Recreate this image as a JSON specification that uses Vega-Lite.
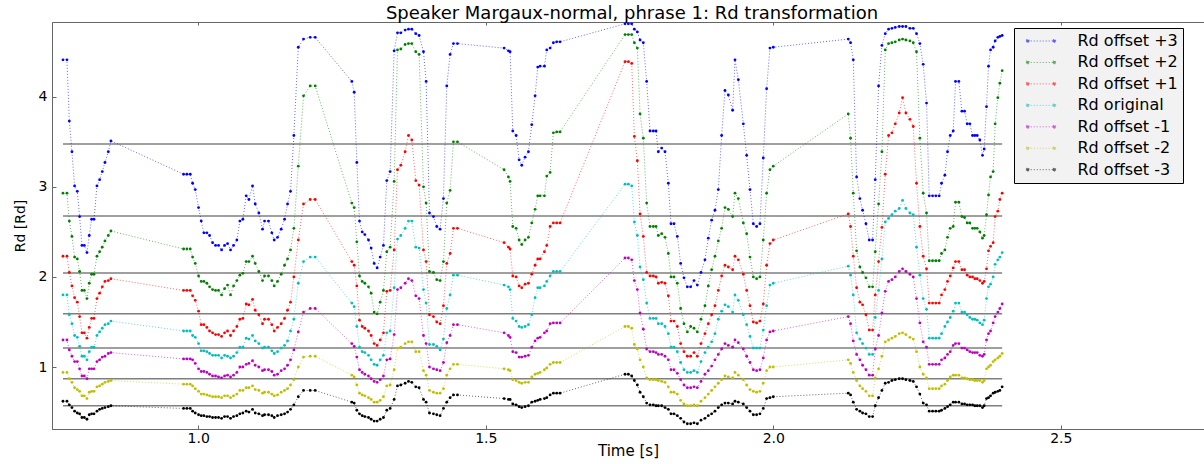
{
"$schema": "https://vega.github.io/schema/vega-lite/v6.json",
"autosize": {"type": "none"},
"padding": {"left": 52, "top": 22, "right": 0, "bottom": 35},
"width": 1152,
"height": 407,
"background": "white",
"title": {"text": "Speaker Margaux-normal, phrase 1: Rd transformation", "font": "DejaVu Sans", "fontSize": 18, "fontWeight": "normal", "color": "#000", "offset": -1, "anchor": "middle", "dx": 4},
"datasets": {
"means": [
{"s": "p3", "y": 3.475, "x0": 0.7648, "x1": 2.398},
{"s": "p2", "y": 2.676, "x0": 0.7648, "x1": 2.398},
{"s": "p1", "y": 2.044, "x0": 0.7648, "x1": 2.398},
{"s": "o", "y": 1.59, "x0": 0.7648, "x1": 2.398},
{"s": "m1", "y": 1.21, "x0": 0.7648, "x1": 2.398},
{"s": "m2", "y": 0.87, "x0": 0.7648, "x1": 2.398},
{"s": "m3", "y": 0.57, "x0": 0.7648, "x1": 2.398}
],
"rd": [
{"t":0.7648,"p3":4.41,"p2":2.93,"p1":2.23,"o":1.80,"m1":1.30,"m2":0.94,"m3":0.62},
{"t":0.7717,"p3":4.41,"p2":2.93,"p1":2.23,"o":1.80,"m1":1.30,"m2":0.94,"m3":0.62},
{"t":0.7758,"p3":3.73,"p2":2.62,"p1":2.05,"o":1.58,"m1":1.19,"m2":0.87,"m3":0.58},
{"t":0.7804,"p3":3.39,"p2":2.45,"p1":1.90,"o":1.48,"m1":1.12,"m2":0.83,"m3":0.55},
{"t":0.7850,"p3":3.01,"p2":2.22,"p1":1.77,"o":1.35,"m1":1.06,"m2":0.77,"m3":0.51},
{"t":0.7897,"p3":2.95,"p2":2.20,"p1":1.72,"o":1.33,"m1":1.06,"m2":0.75,"m3":0.49},
{"t":0.7937,"p3":2.67,"p2":2.06,"p1":1.56,"o":1.23,"m1":0.98,"m2":0.73,"m3":0.48},
{"t":0.7978,"p3":2.35,"p2":1.85,"p1":1.38,"o":1.12,"m1":0.90,"m2":0.68,"m3":0.44},
{"t":0.8019,"p3":2.35,"p2":1.85,"p1":1.38,"o":1.12,"m1":0.90,"m2":0.68,"m3":0.44},
{"t":0.8065,"p3":2.27,"p2":1.76,"p1":1.32,"o":1.08,"m1":0.87,"m2":0.65,"m3":0.42},
{"t":0.8105,"p3":2.46,"p2":1.93,"p1":1.44,"o":1.17,"m1":0.98,"m2":0.72,"m3":0.47},
{"t":0.8146,"p3":2.64,"p2":2.03,"p1":1.54,"o":1.22,"m1":0.98,"m2":0.73,"m3":0.48},
{"t":0.8187,"p3":2.64,"p2":2.03,"p1":1.54,"o":1.22,"m1":0.98,"m2":0.73,"m3":0.48},
{"t":0.8239,"p3":3.01,"p2":2.23,"p1":1.76,"o":1.35,"m1":1.06,"m2":0.78,"m3":0.51},
{"t":0.8285,"p3":3.08,"p2":2.28,"p1":1.82,"o":1.39,"m1":1.08,"m2":0.79,"m3":0.53},
{"t":0.8331,"p3":3.17,"p2":2.33,"p1":1.89,"o":1.43,"m1":1.11,"m2":0.81,"m3":0.54},
{"t":0.8378,"p3":3.27,"p2":2.40,"p1":1.95,"o":1.47,"m1":1.12,"m2":0.83,"m3":0.55},
{"t":0.8436,"p3":3.39,"p2":2.46,"p1":1.96,"o":1.48,"m1":1.15,"m2":0.84,"m3":0.56},
{"t":0.8482,"p3":3.51,"p2":2.51,"p1":1.98,"o":1.51,"m1":1.16,"m2":0.85,"m3":0.57},
{"t":0.9745,"p3":3.14,"p2":2.31,"p1":1.85,"o":1.40,"m1":1.09,"m2":0.81,"m3":0.54},
{"t":0.9803,"p3":3.14,"p2":2.31,"p1":1.85,"o":1.40,"m1":1.09,"m2":0.81,"m3":0.54},
{"t":0.9861,"p3":3.14,"p2":2.31,"p1":1.85,"o":1.40,"m1":1.09,"m2":0.81,"m3":0.54},
{"t":0.9902,"p3":3.04,"p2":2.22,"p1":1.79,"o":1.35,"m1":1.08,"m2":0.79,"m3":0.51},
{"t":0.9948,"p3":2.97,"p2":2.15,"p1":1.74,"o":1.33,"m1":1.04,"m2":0.76,"m3":0.49},
{"t":1.0006,"p3":2.77,"p2":2.01,"p1":1.62,"o":1.26,"m1":0.98,"m2":0.73,"m3":0.47},
{"t":1.0052,"p3":2.62,"p2":1.95,"p1":1.47,"o":1.18,"m1":0.95,"m2":0.70,"m3":0.46},
{"t":1.0098,"p3":2.49,"p2":1.95,"p1":1.47,"o":1.18,"m1":0.95,"m2":0.70,"m3":0.46},
{"t":1.0150,"p3":2.49,"p2":1.93,"p1":1.44,"o":1.17,"m1":0.94,"m2":0.69,"m3":0.45},
{"t":1.0197,"p3":2.46,"p2":1.89,"p1":1.40,"o":1.15,"m1":0.92,"m2":0.68,"m3":0.45},
{"t":1.0249,"p3":2.38,"p2":1.86,"p1":1.38,"o":1.13,"m1":0.90,"m2":0.67,"m3":0.44},
{"t":1.0301,"p3":2.35,"p2":1.85,"p1":1.36,"o":1.13,"m1":0.90,"m2":0.67,"m3":0.44},
{"t":1.0353,"p3":2.35,"p2":1.85,"p1":1.36,"o":1.13,"m1":0.89,"m2":0.67,"m3":0.44},
{"t":1.0406,"p3":2.30,"p2":1.80,"p1":1.34,"o":1.10,"m1":0.88,"m2":0.66,"m3":0.43},
{"t":1.0458,"p3":2.35,"p2":1.87,"p1":1.38,"o":1.13,"m1":0.90,"m2":0.68,"m3":0.45},
{"t":1.0510,"p3":2.37,"p2":1.91,"p1":1.40,"o":1.12,"m1":0.91,"m2":0.68,"m3":0.45},
{"t":1.0562,"p3":2.30,"p2":1.80,"p1":1.35,"o":1.10,"m1":0.89,"m2":0.66,"m3":0.43},
{"t":1.0614,"p3":2.35,"p2":1.90,"p1":1.40,"o":1.12,"m1":0.91,"m2":0.68,"m3":0.45},
{"t":1.0672,"p3":2.41,"p2":1.96,"p1":1.45,"o":1.16,"m1":0.94,"m2":0.70,"m3":0.46},
{"t":1.0724,"p3":2.62,"p2":2.02,"p1":1.53,"o":1.22,"m1":1.00,"m2":0.74,"m3":0.48},
{"t":1.0776,"p3":2.64,"p2":2.04,"p1":1.54,"o":1.22,"m1":1.00,"m2":0.74,"m3":0.49},
{"t":1.0834,"p3":2.90,"p2":2.17,"p1":1.70,"o":1.32,"m1":1.03,"m2":0.77,"m3":0.51},
{"t":1.0881,"p3":2.86,"p2":2.17,"p1":1.69,"o":1.31,"m1":1.04,"m2":0.77,"m3":0.50},
{"t":1.0944,"p3":3.01,"p2":2.23,"p1":1.75,"o":1.35,"m1":1.07,"m2":0.79,"m3":0.53},
{"t":1.0991,"p3":2.81,"p2":2.15,"p1":1.63,"o":1.29,"m1":1.02,"m2":0.75,"m3":0.49},
{"t":1.1054,"p3":2.71,"p2":2.06,"p1":1.58,"o":1.26,"m1":1.00,"m2":0.74,"m3":0.48},
{"t":1.1118,"p3":2.53,"p2":1.96,"p1":1.48,"o":1.21,"m1":0.96,"m2":0.71,"m3":0.46},
{"t":1.1153,"p3":2.62,"p2":2.01,"p1":1.53,"o":1.22,"m1":0.97,"m2":0.72,"m3":0.47},
{"t":1.1222,"p3":2.62,"p2":2.01,"p1":1.53,"o":1.22,"m1":0.97,"m2":0.72,"m3":0.47},
{"t":1.1280,"p3":2.49,"p2":1.96,"p1":1.47,"o":1.18,"m1":0.95,"m2":0.70,"m3":0.46},
{"t":1.1321,"p3":2.41,"p2":1.90,"p1":1.40,"o":1.15,"m1":0.91,"m2":0.68,"m3":0.44},
{"t":1.1379,"p3":2.44,"p2":1.95,"p1":1.44,"o":1.17,"m1":0.92,"m2":0.69,"m3":0.46},
{"t":1.1443,"p3":2.53,"p2":2.03,"p1":1.48,"o":1.21,"m1":0.96,"m2":0.72,"m3":0.47},
{"t":1.1501,"p3":2.64,"p2":2.13,"p1":1.54,"o":1.24,"m1":0.98,"m2":0.74,"m3":0.48},
{"t":1.1553,"p3":2.81,"p2":2.20,"p1":1.63,"o":1.29,"m1":1.02,"m2":0.76,"m3":0.50},
{"t":1.1605,"p3":2.95,"p2":2.30,"p1":1.72,"o":1.40,"m1":1.08,"m2":0.80,"m3":0.53},
{"t":1.1663,"p3":3.57,"p2":2.54,"p1":2.00,"o":1.53,"m1":1.19,"m2":0.86,"m3":0.58},
{"t":1.1740,"p3":4.55,"p2":3.23,"p1":2.41,"o":1.93,"m1":1.39,"m2":1.00,"m3":0.67},
{"t":1.1831,"p3":4.64,"p2":4.01,"p1":2.81,"o":2.17,"m1":1.61,"m2":1.11,"m3":0.74},
{"t":1.1947,"p3":4.66,"p2":4.12,"p1":2.86,"o":2.22,"m1":1.65,"m2":1.12,"m3":0.74},
{"t":1.2034,"p3":4.66,"p2":4.12,"p1":2.86,"o":2.22,"m1":1.65,"m2":1.12,"m3":0.74},
{"t":1.2671,"p3":4.17,"p2":2.82,"p1":2.17,"o":1.71,"m1":1.26,"m2":0.91,"m3":0.61},
{"t":1.2712,"p3":4.05,"p2":2.77,"p1":2.13,"o":1.67,"m1":1.23,"m2":0.89,"m3":0.60},
{"t":1.2758,"p3":3.27,"p2":2.39,"p1":1.90,"o":1.45,"m1":1.11,"m2":0.80,"m3":0.52},
{"t":1.2804,"p3":2.62,"p2":2.01,"p1":1.52,"o":1.22,"m1":0.97,"m2":0.71,"m3":0.48},
{"t":1.2851,"p3":2.50,"p2":1.95,"p1":1.45,"o":1.17,"m1":0.94,"m2":0.69,"m3":0.46},
{"t":1.2897,"p3":2.47,"p2":1.93,"p1":1.43,"o":1.16,"m1":0.92,"m2":0.68,"m3":0.45},
{"t":1.2961,"p3":2.41,"p2":1.89,"p1":1.40,"o":1.13,"m1":0.90,"m2":0.66,"m3":0.44},
{"t":1.3007,"p3":2.32,"p2":1.82,"p1":1.35,"o":1.08,"m1":0.87,"m2":0.64,"m3":0.42},
{"t":1.3059,"p3":2.15,"p2":1.61,"p1":1.26,"o":1.03,"m1":0.84,"m2":0.61,"m3":0.40},
{"t":1.3111,"p3":2.10,"p2":1.59,"p1":1.24,"o":1.02,"m1":0.83,"m2":0.61,"m3":0.40},
{"t":1.3164,"p3":2.22,"p2":1.72,"p1":1.30,"o":1.08,"m1":0.86,"m2":0.63,"m3":0.42},
{"t":1.3221,"p3":2.35,"p2":1.85,"p1":1.38,"o":1.13,"m1":0.90,"m2":0.67,"m3":0.44},
{"t":1.3279,"p3":3.07,"p2":2.28,"p1":1.84,"o":1.38,"m1":1.08,"m2":0.79,"m3":0.52},
{"t":1.3337,"p3":3.17,"p2":2.33,"p1":1.85,"o":1.40,"m1":1.09,"m2":0.80,"m3":0.54},
{"t":1.3407,"p3":4.51,"p2":3.06,"p1":2.30,"o":1.88,"m1":1.36,"m2":0.97,"m3":0.64},
{"t":1.3465,"p3":4.71,"p2":4.52,"p1":3.19,"o":2.42,"m1":1.86,"m2":1.21,"m3":0.79},
{"t":1.3523,"p3":4.71,"p2":4.53,"p1":3.24,"o":2.46,"m1":1.88,"m2":1.22,"m3":0.80},
{"t":1.3598,"p3":4.74,"p2":4.58,"p1":3.39,"o":2.54,"m1":1.93,"m2":1.26,"m3":0.82},
{"t":1.3656,"p3":4.75,"p2":4.59,"p1":3.57,"o":2.62,"m1":1.98,"m2":1.28,"m3":0.84},
{"t":1.3714,"p3":4.75,"p2":4.59,"p1":3.52,"o":2.62,"m1":1.96,"m2":1.28,"m3":0.83},
{"t":1.3783,"p3":4.70,"p2":4.50,"p1":3.07,"o":2.33,"m1":1.79,"m2":1.17,"m3":0.78},
{"t":1.3841,"p3":4.68,"p2":4.47,"p1":3.02,"o":2.32,"m1":1.76,"m2":1.17,"m3":0.77},
{"t":1.3917,"p3":4.50,"p2":3.00,"p1":2.30,"o":1.86,"m1":1.35,"m2":0.96,"m3":0.64},
{"t":1.3963,"p3":4.17,"p2":2.82,"p1":2.17,"o":1.71,"m1":1.26,"m2":0.91,"m3":0.61},
{"t":1.4021,"p3":2.71,"p2":2.06,"p1":1.58,"o":1.25,"m1":1.00,"m2":0.74,"m3":0.49},
{"t":1.4090,"p3":2.67,"p2":2.05,"p1":1.56,"o":1.25,"m1":0.98,"m2":0.72,"m3":0.48},
{"t":1.4148,"p3":2.56,"p2":1.97,"p1":1.50,"o":1.23,"m1":0.97,"m2":0.71,"m3":0.47},
{"t":1.4206,"p3":2.53,"p2":1.96,"p1":1.48,"o":1.19,"m1":0.96,"m2":0.71,"m3":0.46},
{"t":1.4264,"p3":2.87,"p2":2.17,"p1":1.68,"o":1.31,"m1":1.05,"m2":0.76,"m3":0.54},
{"t":1.4322,"p3":4.12,"p2":2.82,"p1":2.15,"o":1.65,"m1":1.27,"m2":0.91,"m3":0.61},
{"t":1.4380,"p3":4.47,"p2":2.96,"p1":2.26,"o":1.80,"m1":1.35,"m2":0.98,"m3":0.66},
{"t":1.4438,"p3":4.59,"p2":3.50,"p1":2.54,"o":2.02,"m1":1.47,"m2":1.03,"m3":0.69},
{"t":1.4508,"p3":4.59,"p2":3.50,"p1":2.54,"o":2.02,"m1":1.47,"m2":1.03,"m3":0.69},
{"t":1.5319,"p3":4.54,"p2":3.19,"p1":2.38,"o":1.91,"m1":1.38,"m2":0.98,"m3":0.65},
{"t":1.5394,"p3":4.51,"p2":3.11,"p1":2.33,"o":1.89,"m1":1.35,"m2":0.97,"m3":0.64},
{"t":1.5423,"p3":4.50,"p2":3.06,"p1":2.31,"o":1.86,"m1":1.33,"m2":0.96,"m3":0.64},
{"t":1.5470,"p3":3.62,"p2":2.56,"p1":2.01,"o":1.54,"m1":1.17,"m2":0.86,"m3":0.59},
{"t":1.5528,"p3":3.57,"p2":2.54,"p1":2.00,"o":1.51,"m1":1.16,"m2":0.85,"m3":0.58},
{"t":1.5580,"p3":3.30,"p2":2.41,"p1":1.90,"o":1.45,"m1":1.11,"m2":0.83,"m3":0.56},
{"t":1.5626,"p3":3.24,"p2":2.36,"p1":1.88,"o":1.44,"m1":1.11,"m2":0.82,"m3":0.55},
{"t":1.5684,"p3":3.33,"p2":2.41,"p1":1.92,"o":1.45,"m1":1.12,"m2":0.83,"m3":0.56},
{"t":1.5742,"p3":3.39,"p2":2.44,"p1":1.93,"o":1.47,"m1":1.13,"m2":0.83,"m3":0.57},
{"t":1.5800,"p3":3.69,"p2":2.60,"p1":2.03,"o":1.58,"m1":1.22,"m2":0.89,"m3":0.61},
{"t":1.5858,"p3":4.01,"p2":2.75,"p1":2.13,"o":1.77,"m1":1.29,"m2":0.92,"m3":0.62},
{"t":1.5904,"p3":4.33,"p2":2.90,"p1":2.20,"o":1.88,"m1":1.32,"m2":0.93,"m3":0.63},
{"t":1.5945,"p3":4.34,"p2":2.90,"p1":2.20,"o":1.88,"m1":1.33,"m2":0.94,"m3":0.64},
{"t":1.6020,"p3":4.34,"p2":2.90,"p1":2.28,"o":1.90,"m1":1.38,"m2":0.97,"m3":0.65},
{"t":1.6061,"p3":4.52,"p2":3.12,"p1":2.35,"o":1.95,"m1":1.40,"m2":0.99,"m3":0.66},
{"t":1.6119,"p3":4.54,"p2":3.16,"p1":2.56,"o":2.01,"m1":1.48,"m2":1.03,"m3":0.69},
{"t":1.6176,"p3":4.60,"p2":3.60,"p1":2.60,"o":2.06,"m1":1.49,"m2":1.05,"m3":0.71},
{"t":1.6234,"p3":4.61,"p2":3.61,"p1":2.60,"o":2.06,"m1":1.49,"m2":1.05,"m3":0.71},
{"t":1.6292,"p3":4.61,"p2":3.61,"p1":2.60,"o":2.06,"m1":1.49,"m2":1.05,"m3":0.71},
{"t":1.7422,"p3":4.81,"p2":4.69,"p1":4.39,"o":3.03,"m1":2.21,"m2":1.45,"m3":0.92},
{"t":1.7480,"p3":4.81,"p2":4.69,"p1":4.39,"o":3.03,"m1":2.21,"m2":1.45,"m3":0.92},
{"t":1.7538,"p3":4.81,"p2":4.69,"p1":4.37,"o":3.01,"m1":2.19,"m2":1.43,"m3":0.90},
{"t":1.7584,"p3":4.75,"p2":4.60,"p1":3.56,"o":2.61,"m1":1.96,"m2":1.25,"m3":0.85},
{"t":1.7636,"p3":4.72,"p2":4.54,"p1":3.29,"o":2.46,"m1":1.86,"m2":1.20,"m3":0.80},
{"t":1.7683,"p3":4.63,"p2":3.81,"p1":2.70,"o":2.11,"m1":1.60,"m2":1.08,"m3":0.72},
{"t":1.7740,"p3":4.60,"p2":3.54,"p1":2.45,"o":1.97,"m1":1.42,"m2":1.00,"m3":0.67},
{"t":1.7798,"p3":4.17,"p2":2.82,"p1":2.05,"o":1.71,"m1":1.20,"m2":0.88,"m3":0.60},
{"t":1.7856,"p3":3.62,"p2":2.56,"p1":2.01,"o":1.54,"m1":1.17,"m2":0.86,"m3":0.58},
{"t":1.7914,"p3":3.62,"p2":2.56,"p1":2.01,"o":1.54,"m1":1.17,"m2":0.86,"m3":0.58},
{"t":1.7961,"p3":3.62,"p2":2.56,"p1":2.00,"o":1.54,"m1":1.16,"m2":0.86,"m3":0.57},
{"t":1.8001,"p3":3.39,"p2":2.46,"p1":1.93,"o":1.48,"m1":1.14,"m2":0.85,"m3":0.57},
{"t":1.8059,"p3":3.43,"p2":2.48,"p1":1.94,"o":1.48,"m1":1.14,"m2":0.84,"m3":0.57},
{"t":1.8117,"p3":3.39,"p2":2.44,"p1":1.93,"o":1.45,"m1":1.12,"m2":0.83,"m3":0.55},
{"t":1.8175,"p3":3.04,"p2":2.26,"p1":1.79,"o":1.37,"m1":1.08,"m2":0.78,"m3":0.53},
{"t":1.8221,"p3":2.59,"p2":2.00,"p1":1.51,"o":1.22,"m1":0.97,"m2":0.72,"m3":0.48},
{"t":1.8273,"p3":2.59,"p2":2.00,"p1":1.51,"o":1.22,"m1":0.97,"m2":0.72,"m3":0.48},
{"t":1.8331,"p3":2.45,"p2":1.93,"p1":1.45,"o":1.17,"m1":0.93,"m2":0.70,"m3":0.46},
{"t":1.8389,"p3":2.15,"p2":1.65,"p1":1.26,"o":1.05,"m1":0.86,"m2":0.63,"m3":0.43},
{"t":1.8447,"p3":1.99,"p2":1.48,"p1":1.17,"o":0.97,"m1":0.80,"m2":0.59,"m3":0.39},
{"t":1.8505,"p3":1.89,"p2":1.39,"p1":1.12,"o":0.94,"m1":0.77,"m2":0.57,"m3":0.37},
{"t":1.8563,"p3":1.89,"p2":1.45,"p1":1.12,"o":0.94,"m1":0.77,"m2":0.57,"m3":0.37},
{"t":1.8621,"p3":1.96,"p2":1.43,"p1":1.16,"o":0.96,"m1":0.78,"m2":0.58,"m3":0.38},
{"t":1.8679,"p3":1.91,"p2":1.39,"p1":1.12,"o":0.94,"m1":0.77,"m2":0.57,"m3":0.37},
{"t":1.8743,"p3":2.05,"p2":1.53,"p1":1.26,"o":1.06,"m1":0.84,"m2":0.62,"m3":0.41},
{"t":1.8812,"p3":2.19,"p2":1.68,"p1":1.37,"o":1.16,"m1":0.92,"m2":0.66,"m3":0.43},
{"t":1.8870,"p3":2.43,"p2":1.90,"p1":1.48,"o":1.22,"m1":0.96,"m2":0.70,"m3":0.46},
{"t":1.8928,"p3":2.63,"p2":2.08,"p1":1.58,"o":1.28,"m1":1.01,"m2":0.74,"m3":0.48},
{"t":1.8986,"p3":2.74,"p2":2.23,"p1":1.68,"o":1.37,"m1":1.08,"m2":0.78,"m3":0.51},
{"t":1.9044,"p3":2.97,"p2":2.40,"p1":1.85,"o":1.53,"m1":1.14,"m2":0.82,"m3":0.55},
{"t":1.9102,"p3":3.57,"p2":2.54,"p1":2.01,"o":1.62,"m1":1.20,"m2":0.86,"m3":0.58},
{"t":1.9160,"p3":4.07,"p2":2.77,"p1":2.13,"o":1.69,"m1":1.26,"m2":0.90,"m3":0.60},
{"t":1.9218,"p3":4.02,"p2":2.75,"p1":2.11,"o":1.67,"m1":1.24,"m2":0.89,"m3":0.60},
{"t":1.9293,"p3":3.85,"p2":2.67,"p1":2.08,"o":1.61,"m1":1.22,"m2":0.88,"m3":0.59},
{"t":1.9334,"p3":4.41,"p2":2.93,"p1":2.23,"o":1.80,"m1":1.30,"m2":0.94,"m3":0.62},
{"t":1.9392,"p3":4.19,"p2":2.87,"p1":2.19,"o":1.74,"m1":1.27,"m2":0.91,"m3":0.61},
{"t":1.9479,"p3":3.70,"p2":2.60,"p1":2.03,"o":1.58,"m1":1.20,"m2":0.86,"m3":0.59},
{"t":1.9537,"p3":3.35,"p2":2.48,"p1":1.85,"o":1.47,"m1":1.12,"m2":0.80,"m3":0.55},
{"t":1.9595,"p3":2.97,"p2":2.22,"p1":1.68,"o":1.34,"m1":1.05,"m2":0.75,"m3":0.51},
{"t":1.9653,"p3":2.59,"p2":2.00,"p1":1.50,"o":1.21,"m1":0.97,"m2":0.73,"m3":0.47},
{"t":1.9710,"p3":2.56,"p2":1.98,"p1":1.49,"o":1.21,"m1":0.96,"m2":0.72,"m3":0.47},
{"t":1.9768,"p3":2.59,"p2":2.00,"p1":1.51,"o":1.21,"m1":0.97,"m2":0.73,"m3":0.48},
{"t":1.9826,"p3":3.32,"p2":2.41,"p1":1.70,"o":1.41,"m1":1.10,"m2":0.82,"m3":0.54},
{"t":1.9884,"p3":4.09,"p2":2.93,"p1":2.13,"o":1.68,"m1":1.30,"m2":0.96,"m3":0.65},
{"t":1.9942,"p3":4.54,"p2":3.19,"p1":2.37,"o":1.91,"m1":1.39,"m2":1.00,"m3":0.66},
{"t":2.0000,"p3":4.55,"p2":3.23,"p1":2.41,"o":1.93,"m1":1.40,"m2":1.00,"m3":0.67},
{"t":2.1304,"p3":4.64,"p2":3.81,"p1":2.70,"o":2.12,"m1":1.56,"m2":1.08,"m3":0.71},
{"t":2.1344,"p3":4.60,"p2":3.54,"p1":2.56,"o":2.02,"m1":1.48,"m2":1.04,"m3":0.69},
{"t":2.1391,"p3":4.41,"p2":2.93,"p1":2.23,"o":1.80,"m1":1.29,"m2":0.94,"m3":0.61},
{"t":2.1449,"p3":3.11,"p2":2.29,"p1":1.88,"o":1.38,"m1":1.14,"m2":0.85,"m3":0.53},
{"t":2.1506,"p3":2.87,"p2":2.11,"p1":1.72,"o":1.31,"m1":1.08,"m2":0.79,"m3":0.51},
{"t":2.1553,"p3":2.74,"p2":2.05,"p1":1.69,"o":1.26,"m1":1.02,"m2":0.76,"m3":0.49},
{"t":2.1611,"p3":2.59,"p2":1.99,"p1":1.58,"o":1.21,"m1":0.97,"m2":0.73,"m3":0.48},
{"t":2.1669,"p3":2.41,"p2":1.89,"p1":1.41,"o":1.14,"m1":0.91,"m2":0.68,"m3":0.45},
{"t":2.1727,"p3":2.41,"p2":1.89,"p1":1.41,"o":1.14,"m1":0.91,"m2":0.68,"m3":0.45},
{"t":2.1773,"p3":3.08,"p2":2.28,"p1":1.80,"o":1.55,"m1":1.20,"m2":0.88,"m3":0.57},
{"t":2.1831,"p3":4.12,"p2":2.81,"p1":2.17,"o":1.85,"m1":1.35,"m2":0.98,"m3":0.66},
{"t":2.1889,"p3":4.57,"p2":3.39,"p1":2.55,"o":2.20,"m1":1.60,"m2":1.12,"m3":0.74},
{"t":2.1947,"p3":4.70,"p2":4.52,"p1":3.14,"o":2.61,"m1":1.84,"m2":1.28,"m3":0.82},
{"t":2.2005,"p3":4.75,"p2":4.59,"p1":3.57,"o":2.65,"m1":1.95,"m2":1.30,"m3":0.83},
{"t":2.2063,"p3":4.76,"p2":4.60,"p1":3.60,"o":2.69,"m1":1.97,"m2":1.32,"m3":0.85},
{"t":2.2121,"p3":4.77,"p2":4.61,"p1":3.70,"o":2.73,"m1":2.00,"m2":1.34,"m3":0.86},
{"t":2.2190,"p3":4.78,"p2":4.63,"p1":3.82,"o":2.76,"m1":2.06,"m2":1.37,"m3":0.87},
{"t":2.2248,"p3":4.78,"p2":4.64,"p1":3.99,"o":2.85,"m1":2.09,"m2":1.38,"m3":0.87},
{"t":2.2306,"p3":4.78,"p2":4.63,"p1":3.82,"o":2.76,"m1":2.06,"m2":1.36,"m3":0.86},
{"t":2.2376,"p3":4.76,"p2":4.62,"p1":3.75,"o":2.71,"m1":2.03,"m2":1.33,"m3":0.85},
{"t":2.2434,"p3":4.76,"p2":4.60,"p1":3.67,"o":2.69,"m1":2.00,"m2":1.31,"m3":0.84},
{"t":2.2491,"p3":4.70,"p2":4.50,"p1":3.04,"o":2.33,"m1":1.76,"m2":1.17,"m3":0.78},
{"t":2.2549,"p3":4.59,"p2":3.54,"p1":2.56,"o":2.02,"m1":1.49,"m2":1.00,"m3":0.70},
{"t":2.2607,"p3":4.36,"p2":2.93,"p1":2.23,"o":1.76,"m1":1.28,"m2":0.92,"m3":0.60},
{"t":2.2665,"p3":3.93,"p2":2.71,"p1":2.09,"o":1.64,"m1":1.22,"m2":0.88,"m3":0.58},
{"t":2.2712,"p3":2.90,"p2":2.18,"p1":1.71,"o":1.32,"m1":1.03,"m2":0.76,"m3":0.51},
{"t":2.2770,"p3":2.90,"p2":2.18,"p1":1.71,"o":1.32,"m1":1.03,"m2":0.76,"m3":0.51},
{"t":2.2827,"p3":2.90,"p2":2.18,"p1":1.71,"o":1.32,"m1":1.03,"m2":0.76,"m3":0.51},
{"t":2.2885,"p3":2.90,"p2":2.18,"p1":1.71,"o":1.32,"m1":1.03,"m2":0.76,"m3":0.51},
{"t":2.2926,"p3":3.04,"p2":2.26,"p1":1.80,"o":1.37,"m1":1.08,"m2":0.79,"m3":0.52},
{"t":2.2984,"p3":3.13,"p2":2.30,"p1":1.86,"o":1.45,"m1":1.10,"m2":0.81,"m3":0.54},
{"t":2.3030,"p3":3.39,"p2":2.44,"p1":1.95,"o":1.50,"m1":1.14,"m2":0.85,"m3":0.56},
{"t":2.3077,"p3":3.57,"p2":2.54,"p1":2.01,"o":1.55,"m1":1.17,"m2":0.89,"m3":0.58},
{"t":2.3129,"p3":3.62,"p2":2.56,"p1":2.10,"o":1.62,"m1":1.24,"m2":0.91,"m3":0.61},
{"t":2.3169,"p3":4.17,"p2":2.83,"p1":2.17,"o":1.71,"m1":1.26,"m2":0.91,"m3":0.61},
{"t":2.3227,"p3":4.17,"p2":2.83,"p1":2.17,"o":1.71,"m1":1.26,"m2":0.91,"m3":0.61},
{"t":2.3280,"p3":3.84,"p2":2.67,"p1":2.08,"o":1.61,"m1":1.21,"m2":0.88,"m3":0.59},
{"t":2.3326,"p3":3.84,"p2":2.66,"p1":2.08,"o":1.61,"m1":1.21,"m2":0.88,"m3":0.59},
{"t":2.3372,"p3":3.70,"p2":2.60,"p1":2.02,"o":1.58,"m1":1.19,"m2":0.87,"m3":0.58},
{"t":2.3418,"p3":3.70,"p2":2.60,"p1":2.00,"o":1.55,"m1":1.17,"m2":0.86,"m3":0.58},
{"t":2.3465,"p3":3.57,"p2":2.54,"p1":2.00,"o":1.53,"m1":1.16,"m2":0.86,"m3":0.58},
{"t":2.3505,"p3":3.57,"p2":2.54,"p1":1.98,"o":1.53,"m1":1.16,"m2":0.85,"m3":0.57},
{"t":2.3546,"p3":3.57,"p2":2.54,"p1":1.98,"o":1.52,"m1":1.16,"m2":0.85,"m3":0.57},
{"t":2.3592,"p3":3.52,"p2":2.50,"p1":1.96,"o":1.49,"m1":1.13,"m2":0.85,"m3":0.57},
{"t":2.3638,"p3":3.35,"p2":2.43,"p1":1.93,"o":1.47,"m1":1.12,"m2":0.83,"m3":0.55},
{"t":2.3667,"p3":3.42,"p2":2.46,"p1":1.95,"o":1.52,"m1":1.14,"m2":0.85,"m3":0.57},
{"t":2.3708,"p3":3.89,"p2":2.69,"p1":2.09,"o":1.76,"m1":1.30,"m2":0.98,"m3":0.65},
{"t":2.3743,"p3":4.34,"p2":2.91,"p1":2.29,"o":1.89,"m1":1.37,"m2":1.00,"m3":0.66},
{"t":2.3778,"p3":4.52,"p2":3.11,"p1":2.34,"o":1.92,"m1":1.40,"m2":1.02,"m3":0.68},
{"t":2.3824,"p3":4.55,"p2":3.17,"p1":2.38,"o":2.00,"m1":1.49,"m2":1.06,"m3":0.71},
{"t":2.3858,"p3":4.62,"p2":3.70,"p1":2.67,"o":2.14,"m1":1.56,"m2":1.08,"m3":0.72},
{"t":2.3905,"p3":4.66,"p2":3.99,"p1":2.73,"o":2.19,"m1":1.61,"m2":1.10,"m3":0.73},
{"t":2.3940,"p3":4.67,"p2":4.15,"p1":2.86,"o":2.22,"m1":1.65,"m2":1.12,"m3":0.74},
{"t":2.3980,"p3":4.68,"p2":4.29,"p1":2.93,"o":2.27,"m1":1.70,"m2":1.15,"m3":0.78}
]
},
"resolve": {"axis": {"x": "independent"}},
"layer": [
{
"data": {"name": "means"},
"mark": {"type": "rule", "color": "#7f7f7f", "strokeWidth": 1.5},
"encoding": {
"x": {"field": "x0", "type": "quantitative", "scale": {"domain": [0.7457, 2.749], "nice": false, "zero": false},
"axis": {"values": [1.0, 1.5, 2.0, 2.5], "format": ".1f", "title": "Time [s]"}},
"x2": {"field": "x1"},
"y": {"field": "y", "type": "quantitative", "scale": {"domain": [0.312, 4.83], "nice": false, "zero": false},
"axis": {"values": [1, 2, 3, 4], "format": "d", "title": "Rd [Rd]"}}
}
},
{
"data": {"name": "rd"},
"transform": [{"fold": ["p3", "p2", "p1", "o", "m1", "m2", "m3"], "as": ["s", "v"]}],
"encoding": {
"x": {"field": "t", "type": "quantitative", "axis": {"orient": "top", "values": [1.0, 1.5, 2.0, 2.5], "labels": false, "title": null, "domain": false, "tickSize": -3}},
"y": {"field": "v", "type": "quantitative"},
"color": {"field": "s", "type": "nominal",
"scale": {"domain": ["p3", "p2", "p1", "o", "m1", "m2", "m3"], "range": ["#0000ff", "#008000", "#ff0000", "#00bfbf", "#bf00bf", "#bfbf00", "#000000"]},
"legend": {"title": null,
"labelExpr": "(datum.label == 'p3' ? 'Rd offset +3' : datum.label == 'p2' ? 'Rd offset +2' : datum.label == 'p1' ? 'Rd offset +1' : datum.label == 'o' ? 'Rd original' : datum.label == 'm1' ? 'Rd offset -1' : datum.label == 'm2' ? 'Rd offset -2' : 'Rd offset -3') + '\u00a0\u00a0\u00a0\u00a0\u00a0\u00a0'",
"encode": {"symbols": {"update": {"fill": {"scale": "color", "field": "value"}, "stroke": {"scale": "color", "field": "value"}, "opacity": {"value": 1}, "fillOpacity": {"value": 1}, "strokeOpacity": {"value": 0.7}}}}}}
},
"layer": [
{"mark": {"type": "line", "strokeDash": [1, 2], "strokeWidth": 1, "opacity": 0.6}},
{"mark": {"type": "point", "filled": true, "shape": "circle", "size": 8, "opacity": 1}}
]
}
],
"config": {
"view": {"stroke": "#666", "strokeWidth": 1},
"axis": {"grid": false, "domainColor": "#666", "tickColor": "#666", "tickSize": -4, "labelFont": "DejaVu Sans", "labelFontSize": 14, "labelColor": "#000", "titleFont": "DejaVu Sans", "titleFontSize": 14, "titleFontWeight": "normal", "titleColor": "#000"},
"axisX": {"labelPadding": 6, "titlePadding": -2, "titleFontSize": 15},
"axisY": {"labelPadding": 9, "titlePadding": 11},
"legend": {"orient": "none", "legendX": 962, "legendY": 6, "fillColor": "#f2f2f2", "strokeColor": "#000", "padding": 4.5, "rowPadding": 4.45,
"symbolType": "M-1.66,0L1.66,0M-1.83,-0.17L-1.49,-0.17L-1.49,0.17L-1.83,0.17ZM1.49,-0.17L1.83,-0.17L1.83,0.17L1.49,0.17Z",
"symbolSize": 256, "symbolOffset": 14, "symbolStrokeWidth": 1, "symbolDash": [1, 2], "labelFont": "DejaVu Sans", "labelFontSize": 16, "labelColor": "#000", "labelOffset": 28}
}
}
